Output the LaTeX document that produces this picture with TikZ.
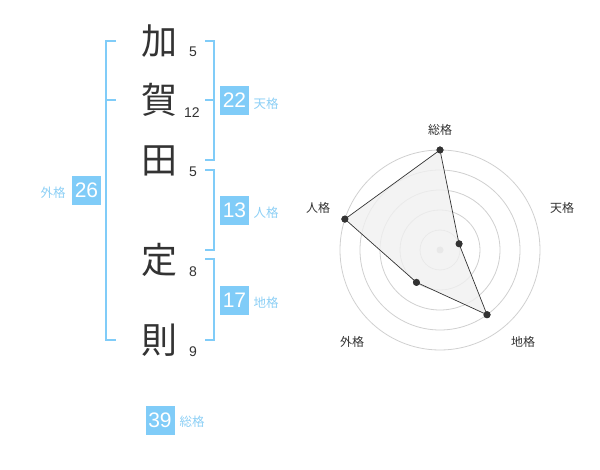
\documentclass[tikz,border=0pt]{standalone}
\usepackage{fontspec}
\setmainfont{Liberation Sans}
\newfontfamily\jp{Noto Sans CJK JP}
\usetikzlibrary{calc}
\definecolor{ink}{HTML}{333333}
\definecolor{sky}{HTML}{80CCF8}
\definecolor{skytext}{HTML}{8CCFF5}
\definecolor{ring}{HTML}{D0D0D0}
\definecolor{area}{HTML}{F0F0F0}
\definecolor{hub}{HTML}{C8C8C8}
\tikzset{
  bracket/.style={draw=sky, line width=2pt},
  ringline/.style={draw=ring, line width=0.8pt},
  polyline/.style={draw=ink, line width=0.7pt},
  dot/.style={circle, fill=ink, inner sep=0pt, minimum size=7pt},
  kanji/.style={text=ink, font=\jp\fontsize{36}{36}\selectfont, inner sep=0pt},
  stroke/.style={text=ink, font=\fontsize{14}{14}\selectfont, inner sep=0pt},
  numbox/.style={fill=sky, text=white, font=\fontsize{21}{21}\selectfont, minimum size=29pt, inner sep=0pt},
  kaku/.style={text=skytext, font=\jp\fontsize{12.5}{12.5}\selectfont, inner sep=0pt},
  axis/.style={text=ink, font=\jp\fontsize{12}{12}\selectfont, inner sep=0pt}
}

\begin{document}
\begin{tikzpicture}[x=1pt, y=-1pt]
  \useasboundingbox (0,0) rectangle (600,470);

  % name characters and stroke counts
  \node[kanji] (k1) at (159,41) {加};
  \node[kanji] (k2) at (159,100) {賀};
  \node[kanji] (k3) at (159,161) {田};
  \node[kanji] (k4) at (159,260) {定};
  \node[kanji] (k5) at (159,340) {則};
  \node[stroke] (s1) at (193,52) {5};
  \node[stroke] (s2) at (192,113) {12};
  \node[stroke] (s3) at (193,172) {5};
  \node[stroke] (s4) at (193,272) {8};
  \node[stroke] (s5) at (193,352) {9};

  % brackets
  \draw[bracket] (116,41) -- (106,41) -- (106,340) -- (116,340);
  \draw[bracket] (106,100) -- (116,100);
  \draw[bracket] (205,41) -- (214,41) -- (214,160) -- (205,160);
  \draw[bracket] (205,100) -- (214,100);
  \draw[bracket] (205,170) -- (214,170) -- (214,250) -- (205,250);
  \draw[bracket] (205,259) -- (214,259) -- (214,340) -- (205,340);

  % scores
  \node[numbox] (ten) at (234.5,100.5) {22};
  \node[kaku] (tenl) at (266,104) {天格};
  \node[numbox] (jin) at (234.5,210.5) {13};
  \node[kaku] (jinl) at (266,213) {人格};
  \node[numbox] (chi) at (234.5,300.5) {17};
  \node[kaku] (chil) at (266,303) {地格};
  \node[numbox] (gai) at (86.5,190.5) {26};
  \node[kaku] (gail) at (53,193) {外格};
  \node[numbox] (sou) at (160,420) {39};
  \node[kaku] (soul) at (192,422) {総格};

  % radar chart
  \coordinate (C) at (440,250);
  \foreach \r in {20,40,...,100}
    \draw[ringline] (C) circle[radius=\r pt];
  \fill[hub] (C) circle[radius=3.5pt];

  \node[dot] (p1) at ($(C)+(90:100pt)$) {};
  \node[dot] (p2) at ($(C)+(18:20pt)$) {};
  \node[dot] (p3) at ($(C)+(-54:80pt)$) {};
  \node[dot] (p4) at ($(C)+(-126:40pt)$) {};
  \node[dot] (p5) at ($(C)+(162:100pt)$) {};
  \draw[polyline, fill=area, fill opacity=0.8] (p1.center) -- (p2.center) -- (p3.center) -- (p4.center) -- (p5.center) -- cycle;
  \foreach \p in {p1,p2,p3,p4,p5}
    \fill[ink] (\p) circle[radius=3.5pt];

  \node[axis] (a1) at (440,130) {総格};
  \node[axis] (a2) at (562,208) {天格};
  \node[axis] (a3) at (523,342) {地格};
  \node[axis] (a4) at (352,342) {外格};
  \node[axis] (a5) at (318,208) {人格};
\end{tikzpicture}
\end{document}
